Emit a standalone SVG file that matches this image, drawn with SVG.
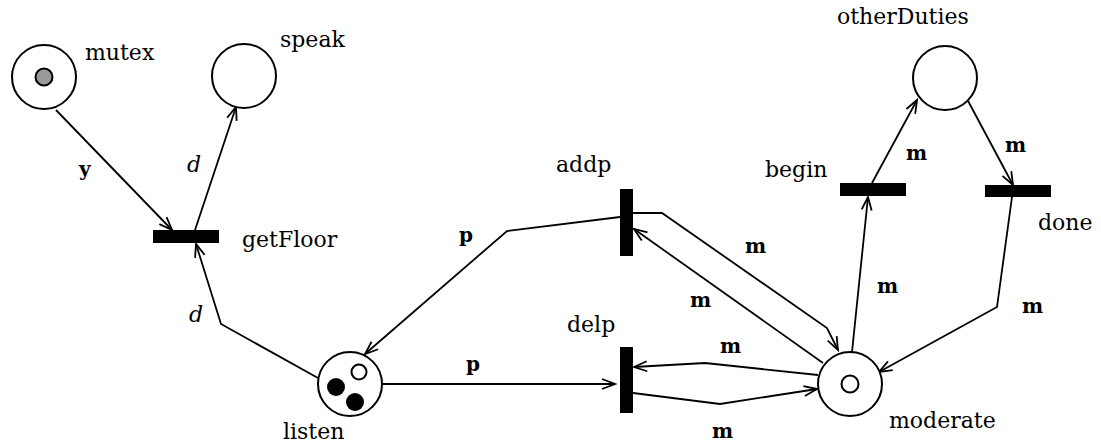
<svg xmlns="http://www.w3.org/2000/svg" width="1101" height="448" viewBox="0 0 1101 448">
<style>
.place{fill:#fff;stroke:#000;stroke-width:2}
.bar{fill:#000}
.lbl{font-family:"DejaVu Serif","Liberation Serif",serif;font-size:22px;fill:#000}
.arc{fill:none;stroke:#000;stroke-width:1.8}
.b{font-family:"DejaVu Serif","Liberation Serif",serif;font-size:20px;font-weight:bold;fill:#000}
.i{font-family:"DejaVu Serif","Liberation Serif",serif;font-size:22px;font-style:italic;fill:#000}
</style>
<defs>
<marker id="ar" markerWidth="16" markerHeight="12" refX="14" refY="6" orient="auto" markerUnits="userSpaceOnUse">
<path d="M1,1 L14,6 L1,11" fill="none" stroke="#000" stroke-width="1.8"/>
</marker>
</defs>
<rect width="1101" height="448" fill="#fff"/>
<g id="connectors">
<line class="arc" x1="56" y1="110" x2="172" y2="230" marker-end="url(#ar)"/>
<line class="arc" x1="195" y1="230" x2="236" y2="107" marker-end="url(#ar)"/>
<polyline class="arc" points="318,378 221,324 196,244" marker-end="url(#ar)"/>
<polyline class="arc" points="620,217 507,231 365,354" marker-end="url(#ar)"/>
<line class="arc" x1="383" y1="384" x2="615" y2="384" marker-end="url(#ar)"/>
<polyline class="arc" points="633,213 662,213 827,328 838,350" marker-end="url(#ar)"/>
<line class="arc" x1="823" y1="363" x2="634" y2="229" marker-end="url(#ar)"/>
<polyline class="arc" points="818,375 705,363 634,367" marker-end="url(#ar)"/>
<polyline class="arc" points="633,393 720,404 817,389" marker-end="url(#ar)"/>
<line class="arc" x1="852" y1="352" x2="868" y2="197" marker-end="url(#ar)"/>
<line class="arc" x1="872" y1="183" x2="917" y2="100" marker-end="url(#ar)"/>
<line class="arc" x1="967" y1="99" x2="1013" y2="185" marker-end="url(#ar)"/>
<polyline class="arc" points="1012,197 997,307 879,372" marker-end="url(#ar)"/>
<text class="b" x="79" y="176">y</text>
<text class="i" x="187" y="172">d</text>
<text class="i" x="189" y="322">d</text>
<text class="b" x="459" y="242">p</text>
<text class="b" x="466" y="371">p</text>
<text class="b" x="745" y="253">m</text>
<text class="b" x="690" y="307">m</text>
<text class="b" x="720" y="353">m</text>
<text class="b" x="712" y="438">m</text>
<text class="b" x="877" y="293">m</text>
<text class="b" x="1022" y="313">m</text>
<text class="b" x="906" y="160">m</text>
<text class="b" x="1005" y="152">m</text>
</g>
<g id="mutex">
<circle class="place" cx="44" cy="77" r="32"/>
<circle cx="44" cy="77" r="8.5" fill="#999" stroke="#000" stroke-width="2"/>
<text class="lbl" x="85" y="60">mutex</text>
</g>
<g id="speak">
<circle class="place" cx="244" cy="76" r="32"/>
<text class="lbl" x="280" y="47">speak</text>
</g>
<g id="getFloor">
<rect class="bar" x="153" y="230" width="66" height="13"/>
<text class="lbl" x="242" y="247">getFloor</text>
</g>
<g id="listen">
<circle class="place" cx="350" cy="384" r="32"/>
<circle cx="359" cy="372" r="7.5" fill="#fff" stroke="#000" stroke-width="2"/>
<circle cx="336" cy="387" r="9" fill="#000"/>
<circle cx="355" cy="402" r="9" fill="#000"/>
<text class="lbl" x="283" y="439">listen</text>
</g>
<g id="addp">
<rect class="bar" x="620" y="189" width="13" height="67"/>
<text class="lbl" x="556" y="172">addp</text>
</g>
<g id="delp">
<rect class="bar" x="620" y="347" width="13" height="66"/>
<text class="lbl" x="567" y="332">delp</text>
</g>
<g id="moderate">
<circle class="place" cx="850" cy="384" r="32"/>
<circle cx="850" cy="384" r="8.5" fill="#fff" stroke="#000" stroke-width="2"/>
<text class="lbl" x="889" y="428">moderate</text>
</g>
<g id="begin">
<rect class="bar" x="840" y="183" width="66" height="13"/>
<text class="lbl" x="765" y="177">begin</text>
</g>
<g id="done">
<rect class="bar" x="985" y="185" width="66" height="12"/>
<text class="lbl" x="1038" y="230">done</text>
</g>
<g id="otherDuties">
<circle class="place" cx="945" cy="78" r="32"/>
<text class="lbl" x="837" y="24">otherDuties</text>
</g>
</svg>
